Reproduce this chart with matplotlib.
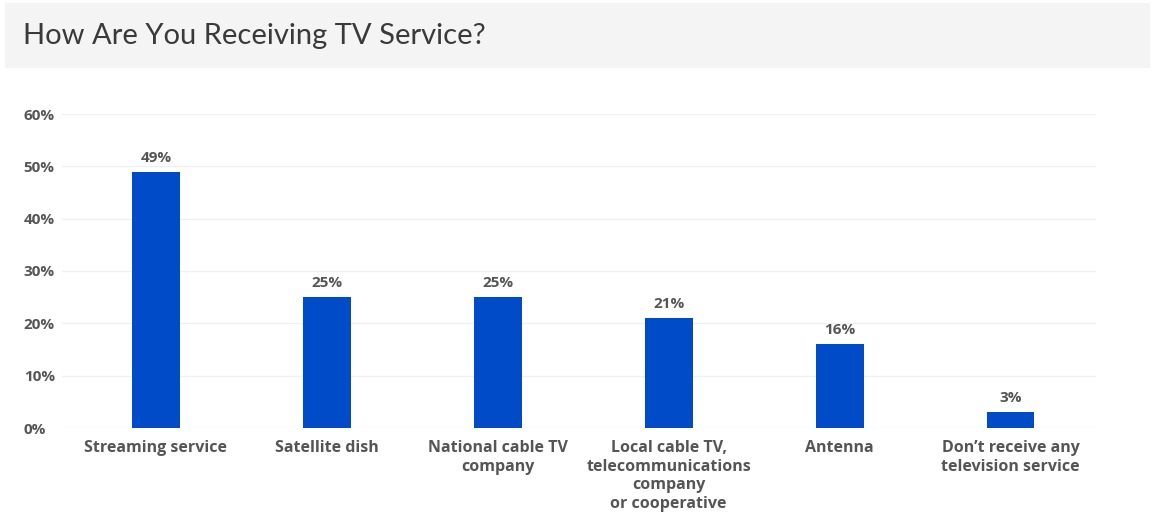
import matplotlib
matplotlib.use("Agg")
import matplotlib.pyplot as plt
from matplotlib.patches import Rectangle

categories = ["Streaming service", "Satellite dish", "National cable TV\ncompany",
              "Local cable TV,\ntelecommunications\ncompany\nor cooperative",
              "Antenna", "Don\u2019t receive any\ntelevision service"]
values = [49, 25, 25, 21, 16, 3]
yticks = [0, 10, 20, 30, 40, 50, 60]
ytick_labels = ["0%", "10%", "20%", "30%", "40%", "50%", "60%"]
title = "How Are You Receiving TV Service?"

W, H = 1154, 514
fig = plt.figure(figsize=(W / 100, H / 100), dpi=100)
fig.patch.set_facecolor("white")

# title bar
fig.patches.append(Rectangle((5 / W, 1 - 68 / H), (1150 - 5) / W, (68 - 3) / H,
                             transform=fig.transFigure, facecolor="#f4f4f4",
                             edgecolor="none", zorder=0))
fig.text(23 / W, 1 - 36 / H, title, fontsize=21, family=["Lato", "DejaVu Sans"],
         fontweight="normal", color="#3a3a3a", va="center", ha="left")

ax = fig.add_axes([62 / W, 1 - 428 / H, (1096 - 62) / W, (428 - 114) / H])
x = list(range(len(categories)))
bars = ax.bar(x, values, width=0.28, color="#004BC7", zorder=2)
ax.set_xlim(-0.55, 5.5)
ax.set_ylim(0, 60)
ax.set_yticks(yticks)
ax.set_yticklabels(ytick_labels)
ax.set_xticks(x)
ax.set_xticklabels(categories)
for s in ax.spines.values():
    s.set_visible(False)
ax.grid(axis="y", color="#f0f0f0", linewidth=1, zorder=0)
ax.tick_params(axis="both", length=0, colors="#555555")
ax.tick_params(axis="y", pad=27.5)
ax.tick_params(axis="x", pad=9)
for lab in ax.get_yticklabels():
    lab.set_fontweight("bold"); lab.set_fontsize(11); lab.set_color("#555555")
    lab.set_family(["Open Sans", "DejaVu Sans"])
    lab.set_horizontalalignment("left")
for lab in ax.get_xticklabels():
    lab.set_fontweight("bold"); lab.set_fontsize(11.5); lab.set_color("#555555")
    lab.set_family(["Open Sans", "DejaVu Sans"])
    lab.set_linespacing(1.2)
ax.bar_label(bars, labels=[f"{v}%" for v in values], padding=5, fontsize=11,
             fontweight="bold", color="#555555", family=["Open Sans", "DejaVu Sans"])

fig.savefig("out.png", dpi=100)
